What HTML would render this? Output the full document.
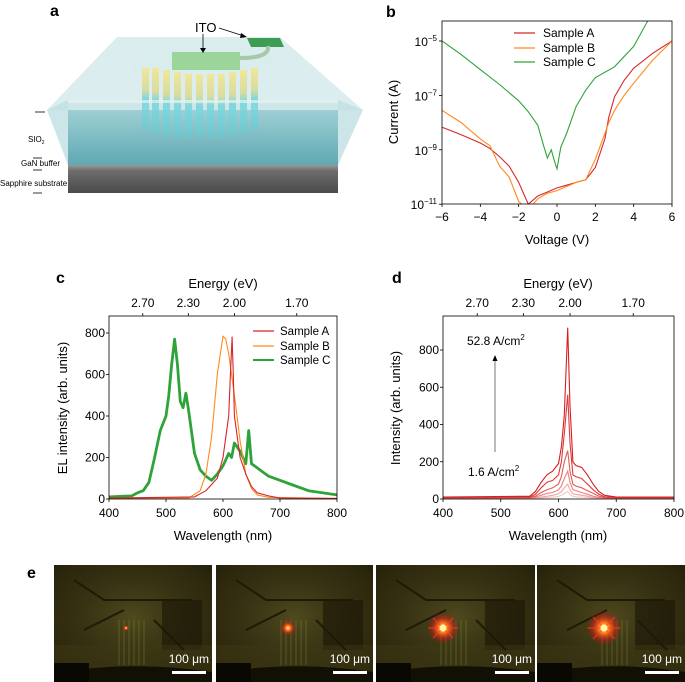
<!DOCTYPE html>
<html><head><meta charset="utf-8"><style>
html,body{margin:0;padding:0;background:#fff;}
svg{display:block;font-family:"Liberation Sans",sans-serif;}
</style></head><body>
<svg id="fig" width="685" height="682" viewBox="0 0 685 682" xmlns="http://www.w3.org/2000/svg">
<defs>
<linearGradient id="sub" x1="0" y1="0" x2="0" y2="1"><stop offset="0" stop-color="#9a9a9a"/><stop offset="0.2" stop-color="#6e6e6e"/><stop offset="1" stop-color="#4a4a4a"/></linearGradient>
<linearGradient id="front" x1="0" y1="0" x2="0" y2="1"><stop offset="0" stop-color="#a9d6da"/><stop offset="1" stop-color="#5fa9b3"/></linearGradient>
<linearGradient id="pil" x1="0" y1="0" x2="0" y2="1"><stop offset="0" stop-color="#f0e79a"/><stop offset="0.35" stop-color="#d9dca0"/><stop offset="0.5" stop-color="#7fd8de"/><stop offset="1" stop-color="#5ccfd9" stop-opacity="0.4"/></linearGradient>
<radialGradient id="bg" cx="0.5" cy="0.45" r="0.75"><stop offset="0" stop-color="#4f4a1e"/><stop offset="0.6" stop-color="#37321290"/><stop offset="1" stop-color="#1c1806"/></radialGradient>
<radialGradient id="glow"><stop offset="0" stop-color="#fffaa0"/><stop offset="0.3" stop-color="#ff7a1a"/><stop offset="0.65" stop-color="#e0201a" stop-opacity="0.5"/><stop offset="1" stop-color="#c00" stop-opacity="0"/></radialGradient>
<clipPath id="clipb"><rect x="442" y="21" width="230" height="183"/></clipPath>
<clipPath id="clipc"><rect x="109" y="316" width="228" height="183"/></clipPath>
<clipPath id="clipd"><rect x="443" y="316" width="231" height="183"/></clipPath>
</defs>

<!-- Panel a -->
<g>
<text x="50" y="16" font-size="16" font-weight="bold">a</text>
<polygon points="68,165 338,165 338,193 68,193" fill="url(#sub)"/>
<polygon points="68,100 338,100 338,165 68,165" fill="url(#front)"/>
<polygon points="117,37 280,37 363,110 47,110" fill="#d6eaec" opacity="0.85"/>
<polygon points="47,110 68,165 68,100" fill="#bfdfe2" opacity="0.8"/>
<polygon points="363,110 338,165 338,100" fill="#bfdfe2" opacity="0.8"/>
<polygon points="140,50 275,50 282,72 132,72" fill="#d8ecec" opacity="0.9"/>
<g>
<rect x="142" y="68" width="7" height="62" fill="url(#pil)"/><rect x="152" y="68" width="7" height="66" fill="url(#pil)"/><rect x="163" y="70" width="7" height="66" fill="url(#pil)"/><rect x="174" y="72" width="7" height="66" fill="url(#pil)"/><rect x="185" y="74" width="7" height="64" fill="url(#pil)"/><rect x="196" y="74" width="7" height="64" fill="url(#pil)"/><rect x="207" y="74" width="7" height="64" fill="url(#pil)"/><rect x="218" y="74" width="7" height="64" fill="url(#pil)"/><rect x="229" y="72" width="7" height="64" fill="url(#pil)"/><rect x="240" y="70" width="7" height="64" fill="url(#pil)"/><rect x="251" y="68" width="7" height="62" fill="url(#pil)"/>
</g>
<rect x="172" y="52" width="68" height="18" fill="#8fd08a" opacity="0.85"/>
<polygon points="247,38 280,38 284,47 251,47" fill="#3f9c55"/>
<path d="M240,58 Q270,58 268,46" stroke="#a8c8a8" stroke-width="4" fill="none"/>
<polygon points="68,100 338,100 338,103 68,103" fill="#e6f3f3" opacity="0.7"/>
<text x="195" y="32" font-size="13">ITO</text>
<line x1="203" y1="34" x2="203" y2="50" stroke="#000" stroke-width="0.8"/><polygon points="200,48 206,48 203,53" fill="#000"/>
<line x1="219" y1="28" x2="244" y2="36" stroke="#000" stroke-width="0.8"/><polygon points="241,33 247,37 240,38" fill="#000"/>
<line x1="35" y1="112" x2="45" y2="112" stroke="#000" stroke-width="0.8"/>
<text x="28" y="142" font-size="8">SIO<tspan font-size="5" dy="2">2</tspan></text>
<line x1="33" y1="158" x2="42" y2="158" stroke="#000" stroke-width="0.8"/>
<text x="21" y="166" font-size="8">GaN buffer</text>
<line x1="33" y1="170" x2="42" y2="170" stroke="#000" stroke-width="0.8"/>
<text x="0" y="186" font-size="8">Sapphire substrate</text>
<line x1="33" y1="193" x2="42" y2="193" stroke="#000" stroke-width="0.8"/>
</g>

<!-- Panel b -->
<g>
<text x="386" y="17" font-size="16" font-weight="bold">b</text>
<g id="b-axes"></g>
<g id="b-lines" clip-path="url(#clipb)"></g>
<rect x="442" y="21" width="230" height="183" fill="none" stroke="#000" stroke-width="0.8"/>
<text transform="translate(398,112) rotate(-90)" text-anchor="middle" font-size="13">Current (A)</text>
<text x="557" y="244" text-anchor="middle" font-size="13">Voltage (V)</text>
<g>
<line x1="514" y1="33" x2="535" y2="33" stroke="#d7262b" stroke-width="1.2"/><text x="543" y="37" font-size="12">Sample A</text>
<line x1="514" y1="48" x2="535" y2="48" stroke="#ff8a1e" stroke-width="1.2"/><text x="543" y="52" font-size="12">Sample B</text>
<line x1="514" y1="62" x2="535" y2="62" stroke="#2fa33a" stroke-width="1.2"/><text x="543" y="66" font-size="12">Sample C</text>
</g>
</g>

<!-- Panel c -->
<g>
<text x="56" y="283" font-size="16" font-weight="bold">c</text>
<g id="c-axes"></g>
<g id="c-lines" clip-path="url(#clipc)"></g>
<rect x="109" y="316" width="228" height="183" fill="none" stroke="#000" stroke-width="0.8"/>
<text x="223" y="288" text-anchor="middle" font-size="13">Energy (eV)</text>
<text x="223" y="540" text-anchor="middle" font-size="13">Wavelength (nm)</text>
<text transform="translate(67,408) rotate(-90)" text-anchor="middle" font-size="13">EL intensity (arb. units)</text>
<g>
<line x1="253" y1="331" x2="274" y2="331" stroke="#d7262b" stroke-width="1.2"/><text x="280" y="335" font-size="11.5">Sample A</text>
<line x1="253" y1="346" x2="274" y2="346" stroke="#ff8a1e" stroke-width="1.2"/><text x="280" y="350" font-size="11.5">Sample B</text>
<line x1="253" y1="360" x2="274" y2="360" stroke="#2fa33a" stroke-width="2"/><text x="280" y="364" font-size="11.5">Sample C</text>
</g>
</g>

<!-- Panel d -->
<g>
<text x="392" y="283" font-size="16" font-weight="bold">d</text>
<g id="d-axes"></g>
<g id="d-lines" clip-path="url(#clipd)"></g>
<rect x="443" y="316" width="231" height="183" fill="none" stroke="#000" stroke-width="0.8"/>
<text x="558" y="288" text-anchor="middle" font-size="13">Energy (eV)</text>
<text x="558" y="540" text-anchor="middle" font-size="13">Wavelength (nm)</text>
<text transform="translate(400,408) rotate(-90)" text-anchor="middle" font-size="13">Intensity (arb. units)</text>
<text x="467" y="345" font-size="12">52.8 A/cm<tspan font-size="8" dy="-5">2</tspan></text>
<text x="468" y="476" font-size="12">1.6 A/cm<tspan font-size="8" dy="-5">2</tspan></text>
<line x1="495" y1="452" x2="495" y2="360" stroke="#555" stroke-width="0.8"/>
<polygon points="492.5,361 497.5,361 495,355" fill="#000"/>
</g>

<!-- Panel e -->
<g>
<text x="27" y="578" font-size="16" font-weight="bold">e</text>
<g id="e-imgs"></g>
</g>
</svg>
<script>
// Panel b data (log10 current)
const bVolt = [-6,-5,-4,-3.5,-3,-2.5,-2,-1.5,-1,-0.5,0,0.5,1,1.5,2,2.5,2.7,3,3.5,4,5,6];
const bSampleA = [-8.17,-8.45,-8.75,-8.95,-9.25,-9.6,-10.2,-11,-10.7,-10.55,-10.4,-10.3,-10.2,-10.1,-9.65,-8.6,-7.8,-7.05,-6.45,-6.0,-5.45,-5.0];
const bSampleB = [-7.55,-8.0,-8.6,-8.85,-9.6,-10.0,-10.9,-11.2,-10.8,-10.6,-10.5,-10.35,-10.2,-10.1,-9.35,-8.4,-8.0,-7.55,-7.0,-6.55,-5.7,-5.0];
const bVoltC = [-6,-5,-4,-3,-2,-1.5,-1,-0.7,-0.5,-0.3,-0.1,0,0.2,0.5,1,1.5,2,3,4,4.7,5];
const bSampleC = [-5.0,-5.5,-6.05,-6.6,-7.2,-7.6,-8.1,-8.85,-9.3,-9.0,-9.5,-9.7,-8.9,-8.4,-7.4,-6.8,-6.35,-5.95,-5.2,-4.3,-4.0];
const bXTicks = [-6,-4,-2,0,2,4,6];
const bYTicks = [-5,-7,-9,-11];
// Panel c data
const cWaveC = [400,440,450,460,470,480,490,500,505,510,515,520,525,530,535,540,550,560,570,580,590,600,610,615,620,630,640,645,650,660,680,700,720,750,800];
const cSampleC = [10,15,30,40,80,200,330,400,500,650,770,650,470,440,510,420,220,140,110,90,120,160,220,200,270,230,170,330,170,150,110,90,70,40,20];
const cWaveB = [400,540,560,570,580,590,600,605,610,620,630,640,650,660,680,800];
const cSampleB = [2,5,40,120,300,600,785,770,700,500,280,120,50,20,8,2];
const cWaveA = [400,550,570,590,600,610,613,616,618,620,630,640,650,660,680,700,800];
const cSampleA = [5,10,40,100,200,400,600,780,600,400,200,120,60,30,15,5,3];
const cXTicks = [400,500,600,700,800];
const cYTicks = [0,200,400,600,800];
const energyTicks = [2.70,2.30,2.00,1.70];
// Panel d data
const dWave = [400,550,560,570,580,590,600,605,610,616,620,625,630,640,650,660,670,680,700,800];
const dCurve1 = [1,2,3,5,8,10,14,20,30,40,25,14,12,10,8,4,3,2,1,1];
const dCurve2 = [2,3,5,10,15,20,28,40,60,80,50,28,25,20,15,8,5,3,2,2];
const dCurve3 = [3,5,10,20,30,35,50,70,110,150,90,50,45,35,25,15,8,5,3,3];
const dCurve4 = [5,8,15,35,50,60,80,120,200,260,150,80,70,60,45,30,15,8,5,5];
const dCurve5 = [8,10,25,60,90,100,130,200,350,560,300,130,120,110,80,50,25,12,8,8];
const dCurve6 = [10,15,40,90,130,150,190,280,450,920,500,200,180,170,130,80,40,20,10,10];
const dYTicks = [0,200,400,600,800];
// Panel e data (relative glow sizes)
const eGlow = [2,5,10,11];

const NS='http://www.w3.org/2000/svg';
function mk(tag,attrs,parent){const e=document.createElementNS(NS,tag);for(const k in attrs)e.setAttribute(k,attrs[k]);parent.appendChild(e);return e;}
const xb=v=>442+(v+6)/12*230, yb=l=>41+(-5-l)*27.2;
const xc=w=>109+(w-400)/400*228, yc=v=>499-v*166/800;
const xd=w=>443+(w-400)/400*231, yd=v=>499-v*149/800;
function path(xs,ys,fx,fy){return xs.map((x,i)=>(i?'L':'M')+fx(x).toFixed(1)+','+fy(ys[i]).toFixed(1)).join('');}

// b axes
const ba=document.getElementById('b-axes');
bXTicks.forEach(v=>{mk('line',{x1:xb(v),y1:204,x2:xb(v),y2:207,stroke:'#000','stroke-width':0.8},ba);
 const t=mk('text',{x:xb(v),y:221,'text-anchor':'middle','font-size':12},ba);t.textContent=(v<0?'\u2212'+(-v):String(v));
 
 });
bYTicks.forEach(l=>{mk('line',{x1:439,y1:yb(l),x2:442,y2:yb(l),stroke:'#000','stroke-width':0.8},ba);
 const t=mk('text',{x:437,y:yb(l)+5,'text-anchor':'end','font-size':12},ba);
 t.innerHTML='10<tspan font-size="8" dy="-5">\u2212'+(-l)+'</tspan>';
 
 });
const bl=document.getElementById('b-lines');
[[bVolt,bSampleA,'#d7262b','iv-line-sample-a'],[bVolt,bSampleB,'#ff8a1e','iv-line-sample-b'],[bVoltC,bSampleC,'#2fa33a','iv-line-sample-c']].forEach(s=>{
 const p=mk('path',{d:path(s[0],s[1],xb,yb),fill:'none',stroke:s[2],'stroke-width':1.1},bl);
 
 });

function specAxes(id,fx,fy,yt,left,right){
 const g=document.getElementById(id);
 cXTicks.forEach(w=>{mk('line',{x1:fx(w),y1:499,x2:fx(w),y2:502,stroke:'#000','stroke-width':0.8},g);
  const t=mk('text',{x:fx(w),y:517,'text-anchor':'middle','font-size':12},g);t.textContent=w;
  
  });
 yt.forEach(v=>{mk('line',{x1:left-3,y1:fy(v),x2:left,y2:fy(v),stroke:'#000','stroke-width':0.8},g);
  const t=mk('text',{x:left-4,y:fy(v)+4,'text-anchor':'end','font-size':12},g);t.textContent=v;
  
  });
 energyTicks.forEach(e=>{const x=fx(1240/e);mk('line',{x1:x,y1:316,x2:x,y2:313,stroke:'#000','stroke-width':0.8},g);
  const t=mk('text',{x:x,y:307,'text-anchor':'middle','font-size':12},g);t.textContent=e.toFixed(2);
  
  });
}
specAxes('c-axes',xc,yc,cYTicks,109,337);
specAxes('d-axes',xd,yd,dYTicks,443,674);
const cl=document.getElementById('c-lines');
[[cWaveC,cSampleC,'#2fa33a',2.8,'el-line-sample-c'],[cWaveB,cSampleB,'#ff8a1e',1.1,'el-line-sample-b'],[cWaveA,cSampleA,'#d7262b',1.1,'el-line-sample-a']].forEach(s=>{
 const p=mk('path',{d:path(s[0],s[1],xc,yc),fill:'none',stroke:s[2],'stroke-width':s[3],'stroke-linejoin':'round'},cl);
 
 });
const dl=document.getElementById('d-lines');
const dCols=['#f7c9c9','#f1a5a5','#ea8080','#e35a5a','#dc3a3a','#d42020'];
[dCurve1,dCurve2,dCurve3,dCurve4,dCurve5,dCurve6].forEach((c,i)=>{
 const p=mk('path',{d:path(dWave,c,xd,yd),fill:'none',stroke:dCols[i],'stroke-width':1.1},dl);
 
 });

// panel e
const eg=document.getElementById('e-imgs');
const eX=[54,216,376,537], eW=[158,157,159,148];
eGlow.forEach((s,i)=>{
 const g=mk('g',{},eg);
 
 
 const x=eX[i],w=eW[i];
 mk('rect',{x:x,y:565,width:w,height:117,fill:'#2a250c'},g);
 mk('rect',{x:x,y:565,width:w,height:117,fill:'url(#bg)'},g);
 mk('rect',{x:x+w-50,y:600,width:40,height:50,fill:'#1a1606',opacity:0.6},g);
 mk('rect',{x:x,y:645,width:w,height:37,fill:'#3e3814',opacity:0.5},g);
 mk('path',{d:`M${x},673 Q${x+w/2},660 ${x+w},672 L${x+w},682 L${x},682Z`,fill:'#120f04'},g);
 mk('path',{d:`M${x+20},580 L${x+50},600 L${x+w-20},600 M${x+30},630 L${x+70},610 M${x+100},620 L${x+130},650`,stroke:'#1e1a08','stroke-width':2,fill:'none'},g);
 mk('rect',{x:x,y:663,width:35,height:19,fill:'#0a0803'},g);
 for(let k=0;k<6;k++)mk('line',{x1:x+65+k*5,y1:620,x2:x+65+k*5,y2:665,stroke:'#8a9a40','stroke-width':0.6,opacity:0.6},g);
 const cx=x+72+(i>1?-5:0);
 mk('circle',{cx:cx,cy:628,r:s*1.6,fill:'url(#glow)'},g);
 if(s>8){mk('path',{d:`M${cx-s},${628-s} L${cx+s},${628+s} M${cx-s},${628+s} L${cx+s},${628-s} M${cx-s*1.5},628 L${cx+s*1.5},628`,stroke:'#ff4020','stroke-width':1.2,opacity:0.7},g);
   mk('circle',{cx:cx,cy:628,r:3.5,fill:'#fff7a0'},g);}
 const t=mk('text',{x:x+w-3,y:663,'text-anchor':'end','font-size':12,fill:'#fff'},g);t.textContent='100 \u03bcm';
 
 
 const r=mk('rect',{x:x+w-40,y:671,width:34,height:3,fill:'#fff'},g);
 
 
});
</script>
</body></html>
